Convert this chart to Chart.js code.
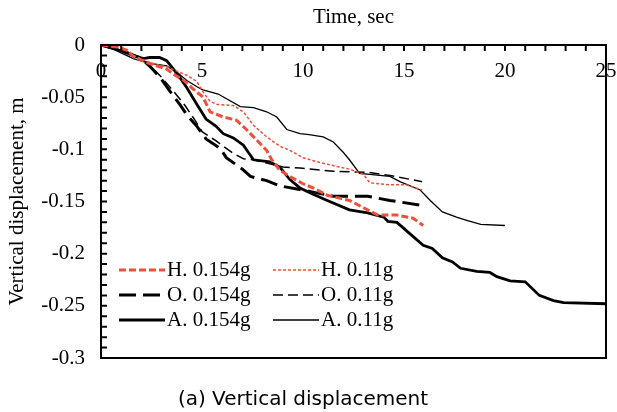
<!DOCTYPE html>
<html lang="en">
<head>
  <meta charset="UTF-8">
  <title>Vertical displacement</title>
  <script src="https://cdn.jsdelivr.net/npm/chart.js"></script>
  <style>
    html, body { margin: 0; padding: 0; background: #fff; }
  </style>
</head>
<body>
  <canvas id="dispChart" width="617" height="412"></canvas>
  <script>
    // time (sec) and vertical displacement (m)
    const tH154 = [0, 0.8, 1.3, 1.6, 2.3, 2.75, 3.25, 3.6, 4.1, 4.55, 5.05, 5.4, 6.05, 6.7, 7.2, 7.7, 8.2, 8.45, 8.85, 9.35, 10.0, 10.5, 11.2, 12.3, 13.0, 13.7, 14.65, 15.45, 15.95];
    const vH154 = [0, -0.002, -0.005, -0.011, -0.017, -0.020, -0.023, -0.028, -0.034, -0.042, -0.050, -0.064, -0.069, -0.072, -0.081, -0.091, -0.101, -0.110, -0.120, -0.126, -0.133, -0.137, -0.144, -0.149, -0.156, -0.163, -0.163, -0.166, -0.173];

    const tH011 = [0, 1.0, 1.6, 2.3, 2.8, 3.3, 3.75, 4.25, 4.75, 5.05, 5.4, 5.75, 6.55, 7.05, 7.55, 8.2, 8.85, 9.35, 10.0, 10.7, 11.8, 12.3, 13.0, 13.3, 14.3, 15.1, 15.9];
    const vH011 = [0, -0.002, -0.010, -0.016, -0.019, -0.021, -0.025, -0.029, -0.035, -0.045, -0.054, -0.057, -0.058, -0.064, -0.077, -0.088, -0.097, -0.101, -0.108, -0.112, -0.117, -0.119, -0.124, -0.132, -0.134, -0.134, -0.139];

    const tO154 = [0, 1, 2, 2.5, 3.0, 3.4, 3.9, 4.25, 4.75, 5.2, 5.9, 6.2, 7.0, 7.4, 8.2, 8.85, 9.7, 10.5, 11.5, 13.2, 14.3, 16.0];
    const vO154 = [0, -0.005, -0.013, -0.022, -0.033, -0.044, -0.057, -0.067, -0.078, -0.090, -0.099, -0.108, -0.119, -0.126, -0.130, -0.135, -0.138, -0.141, -0.145, -0.145, -0.149, -0.154];

    const tO011 = [0, 1, 2, 2.5, 3.0, 3.66, 4.16, 4.65, 5.0, 5.7, 6.55, 7.05, 7.55, 9.0, 9.85, 11.5, 13.2, 14.3, 15.9];
    const vO011 = [0, -0.005, -0.013, -0.021, -0.031, -0.046, -0.058, -0.072, -0.083, -0.092, -0.104, -0.109, -0.110, -0.117, -0.118, -0.121, -0.122, -0.125, -0.131];

    const tA154 = [0, 0.9, 1.6, 2.1, 2.4, 2.9, 3.25, 3.5, 3.9, 4.25, 4.75, 5.2, 5.7, 6.05, 6.55, 7.05, 7.55, 8.35, 8.85, 9.35, 9.85, 10.5, 11.2, 12.3, 13.2, 14.0, 14.2, 14.65, 15.3, 15.95, 16.4, 16.9, 17.4, 17.8, 18.6, 19.25, 19.6, 20.25, 21.0, 21.7, 22.4, 22.9, 25];
    const vA154 = [0, -0.005, -0.010, -0.013, -0.012, -0.012, -0.015, -0.021, -0.031, -0.041, -0.057, -0.071, -0.078, -0.085, -0.089, -0.096, -0.110, -0.112, -0.117, -0.129, -0.137, -0.143, -0.149, -0.158, -0.161, -0.165, -0.169, -0.170, -0.181, -0.192, -0.195, -0.204, -0.208, -0.214, -0.217, -0.218, -0.222, -0.226, -0.227, -0.240, -0.245, -0.247, -0.248];

    const tA011 = [0, 0.6, 1.6, 2.1, 2.6, 3.25, 3.75, 4.25, 4.75, 5.05, 5.8, 6.9, 7.55, 8.2, 8.7, 9.2, 9.85, 10.3, 11.0, 11.5, 12.0, 12.3, 12.8, 14.3, 14.8, 15.8, 16.3, 16.9, 17.6, 18.1, 18.8, 20.0];
    const vA011 = [0, -0.004, -0.013, -0.016, -0.018, -0.020, -0.026, -0.034, -0.040, -0.043, -0.047, -0.059, -0.060, -0.064, -0.069, -0.081, -0.085, -0.086, -0.088, -0.093, -0.103, -0.110, -0.123, -0.126, -0.131, -0.139, -0.149, -0.160, -0.165, -0.168, -0.172, -0.173];

    const RED = '#ef4f3b';
    const SERIF = 'Liberation Serif';

    const pts = (t, v) => t.map((x, i) => ({ x: x, y: v[i] }));

    function line(label, t, v, color, width, dash) {
      return {
        label: label,
        data: pts(t, v),
        borderColor: color,
        borderWidth: width,
        borderDash: dash,
        pointRadius: 0,
        tension: 0,
        fill: false
      };
    }

    // frame, inward minor ticks and the two-column legend
    const decorations = {
      id: 'decorations',
      afterDraw(chart) {
        const ctx = chart.ctx;
        const a = chart.chartArea;
        const xs = chart.scales.x, ys = chart.scales.y;
        ctx.save();
        ctx.strokeStyle = '#000';
        ctx.lineWidth = 2;
        ctx.setLineDash([]);
        ctx.strokeRect(a.left, a.top, a.right - a.left, a.bottom - a.top);

        ctx.beginPath();
        xs.ticks.forEach(tk => {
          const px = xs.getPixelForValue(tk.value);
          ctx.moveTo(px, a.top);
          ctx.lineTo(px, a.top + 6);
        });
        ys.ticks.forEach(tk => {
          const py = ys.getPixelForValue(tk.value);
          ctx.moveTo(a.left, py);
          ctx.lineTo(a.left + 6, py);
        });
        ctx.stroke();

        const colX = [119, 273];
        const rowY = [270, 295, 320];
        ctx.font = '21px "' + SERIF + '"';
        ctx.textBaseline = 'middle';
        ctx.fillStyle = '#000';
        chart.data.datasets.forEach((ds, i) => {
          const x = colX[i % 2], y = rowY[Math.floor(i / 2)];
          ctx.strokeStyle = ds.borderColor;
          ctx.lineWidth = ds.borderWidth;
          ctx.setLineDash(ds.borderDash);
          ctx.beginPath();
          ctx.moveTo(x, y);
          ctx.lineTo(x + 46, y);
          ctx.stroke();
          ctx.fillText(ds.label, x + 48, y);
        });
        ctx.restore();
      }
    };

    const ctx = document.getElementById('dispChart').getContext('2d');
    const chart = new Chart(ctx, {
      type: 'line',
      data: {
        datasets: [
          line('H. 0.154g', tH154, vH154, RED, 3, [7, 3]),
          line('H. 0.11g', tH011, vH011, RED, 1.5, [3, 2]),
          line('O. 0.154g', tO154, vO154, '#000', 3, [17, 7]),
          line('O. 0.11g', tO011, vO011, '#000', 1.5, [10, 5]),
          line('A. 0.154g', tA154, vA154, '#000', 2.8, []),
          line('A. 0.11g', tA011, vA011, '#000', 1.3, [])
        ]
      },
      options: {
        responsive: false,
        animation: false,
        devicePixelRatio: 1,
        layout: { padding: { left: 0, top: 0, right: 11, bottom: 0 } },
        plugins: {
          legend: { display: false },
          tooltip: { enabled: false },
          title: {
            display: true,
            position: 'bottom',
            text: '(a) Vertical displacement',
            color: '#000',
            font: { family: 'DejaVu Sans', size: 20, weight: 'normal' },
            padding: { top: 30, bottom: 0 }
          }
        },
        scales: {
          x: {
            type: 'linear',
            position: 'top',
            min: 0,
            max: 25,
            afterFit: s => { s.height = 45; s.paddingLeft = 0; s.paddingRight = 0; },
            grid: { display: false, drawTicks: false },
            border: { display: false },
            title: {
              display: true,
              text: 'Time, sec',
              color: '#000',
              font: { family: SERIF, size: 21 },
              padding: { top: 5, bottom: 0 }
            },
            ticks: {
              stepSize: 1,
              autoSkip: false,
              maxRotation: 0,
              mirror: true,
              padding: 14,
              color: '#000',
              font: { family: SERIF, size: 21 },
              callback: v => (Math.round(v) % 5 === 0 ? String(Math.round(v)) : '')
            }
          },
          y: {
            type: 'linear',
            min: -0.3,
            max: 0,
            afterFit: s => { s.width = 101; },
            grid: { display: false, drawTicks: false },
            border: { display: false },
            title: {
              display: true,
              text: 'Vertical displacement, m',
              color: '#000',
              font: { family: SERIF, size: 21 },
              padding: { top: 5, bottom: 0 }
            },
            ticks: {
              stepSize: 0.01,
              autoSkip: false,
              padding: 16,
              color: '#000',
              font: { family: SERIF, size: 21 },
              callback: v => {
                const c = Math.round(v * 100);
                return c % 5 === 0 ? String(c / 100) : '';
              }
            }
          }
        }
      },
      plugins: [decorations]
    });
  </script>
</body>
</html>
